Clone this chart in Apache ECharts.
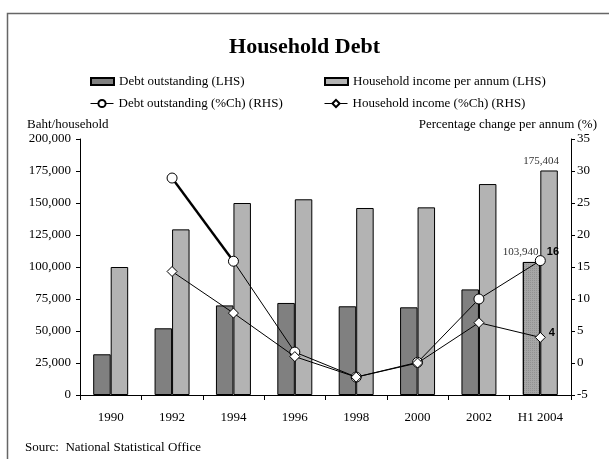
<!DOCTYPE html>
<html>
<head>
<meta charset="utf-8">
<script src="https://cdn.jsdelivr.net/npm/echarts@6/dist/echarts.min.js"></script>
<style>
  html, body { margin: 0; padding: 0; background: #fff; }
  #chart { width: 609px; height: 459px; }
</style>
</head>
<body>
<div id="chart"></div>
<script>
// Household debt vs income, baht per household, with annual % change
const years = ['1990', '1992', '1994', '1996', '1998', '2000', '2002', 'H1 2004'];
const debtOutstanding = [31800, 52100, 70000, 71900, 69300, 68500, 82500, 103940];
const householdIncome = [100000, 129400, 150000, 152900, 146100, 146600, 164800, 175404];
const debtChange = [null, 28.9, 15.9, 1.7, -2.2, 0.1, 10.0, 16];
const incomeChange = [null, 14.3, 7.8, 1.0, -2.2, 0.0, 6.3, 4];
const leftTicks = { min: 0, max: 200000, step: 25000 };
const rightTicks = { min: -5, max: 35, step: 5 };

const SERIF = 'Liberation Serif, Times New Roman, serif';
const last = years.length - 1;

const fmtThousands = v => Number(v).toLocaleString('en-US');

// bar data: final half-year point is shaded differently and labelled
const debtBarData = debtOutstanding.map((v, i) => i === last ? {
  value: v,
  itemStyle: {
    color: '#a6a6a6',
    decal: { symbol: 'rect', symbolSize: 1, dashArrayX: [1, 1], dashArrayY: [1, 1], color: 'rgba(0,0,0,0.12)' }
  },
  label: { show: true, position: 'top', distance: 4, offset: [-11, 0],
    formatter: p => fmtThousands(p.value), fontFamily: SERIF, fontSize: 11, color: '#333' }
} : v);

const incomeBarData = householdIncome.map((v, i) => i === last ? {
  value: v,
  label: { show: true, position: 'top', distance: 4, offset: [-8, 0],
    formatter: p => fmtThousands(p.value), fontFamily: SERIF, fontSize: 11, color: '#333' }
} : v);

const pointLabel = (off) => ({
  show: true, position: 'right', distance: 1, offset: off,
  formatter: '{c}', fontFamily: 'Liberation Sans, Arial, sans-serif',
  fontWeight: 'bold', fontSize: 11, color: '#000'
});

const debtLineData = debtChange.map((v, i) => i === last ? { value: v, label: pointLabel([0, -9]) } : v);
const incomeLineData = incomeChange.map((v, i) => i === last ? { value: v, label: pointLabel([2, -4]) } : v);

// heavier stroke on the 1992-1994 debt segment
const debtHeavySegment = debtChange.map((v, i) => (i === 1 || i === 2) ? v : null);

const chart = echarts.init(document.getElementById('chart'), null, { renderer: 'canvas' });

const legendBase = {
  orient: 'horizontal',
  itemGap: 0,
  itemWidth: 23,
  textStyle: { fontFamily: SERIF, fontSize: 13, color: '#000' },
  selectedMode: false,
  lineStyle: { width: 1, color: '#000' }
};

chart.setOption({
  backgroundColor: '#fff',
  animation: false,
  title: {
    text: 'Household Debt',
    left: 'center',
    top: 31,
    textStyle: { fontFamily: SERIF, fontSize: 22, fontWeight: 'bold', color: '#000' }
  },
  legend: [
    Object.assign({}, legendBase, { data: [{ name: 'Debt outstanding (LHS)', icon: 'rect' }], left: 85, top: 70, itemHeight: 7 }),
    Object.assign({}, legendBase, { data: [{ name: 'Household income per annum (LHS)', icon: 'rect' }], left: 319, top: 70, itemHeight: 7 }),
    Object.assign({}, legendBase, { data: ['Debt outstanding (%Ch) (RHS)'], left: 85, top: 92, itemHeight: 9 }),
    Object.assign({}, legendBase, { data: ['Household income (%Ch) (RHS)'], left: 319, top: 92, itemHeight: 9 })
  ],
  grid: { left: 80, right: 38, top: 139, bottom: 64 },
  xAxis: {
    type: 'category',
    data: years,
    axisLine: { lineStyle: { color: '#000', width: 1 } },
    axisTick: { show: true, length: 5, lineStyle: { color: '#000' } },
    axisLabel: { margin: 16, fontFamily: SERIF, fontSize: 13, color: '#000' },
    splitLine: { show: false }
  },
  yAxis: [
    {
      type: 'value', position: 'left',
      min: leftTicks.min, max: leftTicks.max, interval: leftTicks.step,
      axisLine: { show: true, lineStyle: { color: '#000' } },
      axisTick: { show: true, length: 4, lineStyle: { color: '#000' } },
      axisLabel: { margin: 9, fontFamily: SERIF, fontSize: 13, color: '#000', formatter: fmtThousands },
      splitLine: { show: false }
    },
    {
      type: 'value', position: 'right',
      min: rightTicks.min, max: rightTicks.max, interval: rightTicks.step,
      axisLine: { show: true, lineStyle: { color: '#000' } },
      axisTick: { show: true, length: 4, lineStyle: { color: '#000' } },
      axisLabel: { margin: 6, fontFamily: SERIF, fontSize: 13, color: '#000' },
      splitLine: { show: false }
    }
  ],
  series: [
    {
      name: 'Debt outstanding (LHS)', type: 'bar', yAxisIndex: 0,
      data: debtBarData, barGap: '0%', barCategoryGap: '43%',
      itemStyle: { color: '#808080', borderColor: '#000', borderWidth: 1 }
    },
    {
      name: 'Household income per annum (LHS)', type: 'bar', yAxisIndex: 0,
      data: incomeBarData, barGap: '0%', barCategoryGap: '43%',
      itemStyle: { color: '#b3b3b3', borderColor: '#000', borderWidth: 1 }
    },
    {
      name: 'debt-heavy', type: 'line', yAxisIndex: 1, z: 3,
      data: debtHeavySegment, symbol: 'none', silent: true,
      lineStyle: { color: '#000', width: 2.4 }
    },
    {
      name: 'Debt outstanding (%Ch) (RHS)', type: 'line', yAxisIndex: 1, z: 4,
      data: debtLineData, symbol: 'circle', symbolSize: 10,
      itemStyle: { color: '#fff', borderColor: '#000', borderWidth: 1 },
      lineStyle: { color: '#000', width: 1 }
    },
    {
      name: 'Household income (%Ch) (RHS)', type: 'line', yAxisIndex: 1, z: 5,
      data: incomeLineData, symbol: 'diamond', symbolSize: 10,
      itemStyle: { color: '#fff', borderColor: '#000', borderWidth: 1 },
      lineStyle: { color: '#000', width: 1 }
    }
  ],
  graphic: [
    {
      type: 'rect', silent: true,
      shape: { x: 7.5, y: 13.5, width: 700, height: 500 },
      style: { fill: null, stroke: '#666', lineWidth: 1.5 }
    },
    {
      type: 'text', left: 27, top: 118,
      style: { text: 'Baht/household', font: '13px ' + SERIF, fill: '#000' }
    },
    {
      type: 'text', right: 12, top: 118,
      style: { text: 'Percentage change per annum (%)', font: '13px ' + SERIF, fill: '#000' }
    },
    {
      type: 'text', left: 25, top: 441,
      style: { text: 'Sourc:  National Statistical Office', font: '13px ' + SERIF, fill: '#000' }
    }
  ]
});
</script>
</body>
</html>
